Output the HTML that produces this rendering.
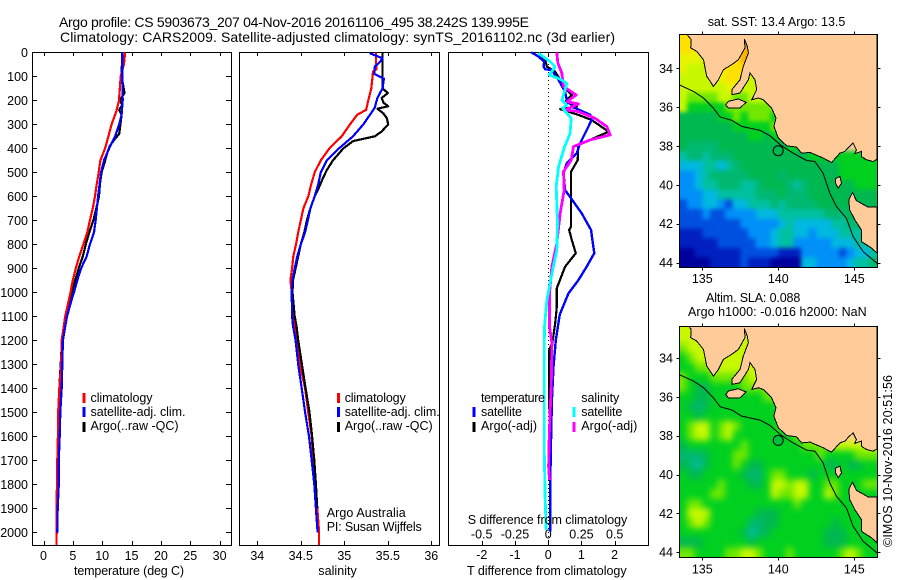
<!DOCTYPE html>
<html lang="en">
<head>
<meta charset="utf-8">
<title>Argo profile chart</title>
<style>
html,body{margin:0;padding:0;background:#fff;}
svg{display:block;font-family:"Liberation Sans",sans-serif;fill:#000;}
text{font-size:12.5px;}
.title{font-size:14px;}
</style>
</head>
<body>
<svg id="chart" xmlns="http://www.w3.org/2000/svg" width="900" height="580" viewBox="0 0 900 580">
<rect x="0" y="0" width="900" height="580" fill="#fff"/>
<text class="title" x="59" y="27" textLength="470">Argo profile: CS 5903673_207 04-Nov-2016 20161106_495 38.242S 139.995E</text>
<text class="title" x="60" y="42" textLength="555">Climatology: CARS2009. Satellite-adjusted climatology: synTS_20161102.nc (3d earlier)</text>

<g id="p1"></g>
<g id="p2"></g>
<g id="p3"></g>
<g id="m1"></g>
<g id="m2"></g>

<g>
<rect x="82.5" y="393" width="3" height="10" fill="#f00"/>
<rect x="82.5" y="407" width="3" height="10" fill="#00f"/>
<rect x="82.5" y="422" width="3" height="10" fill="#000"/>
<text x="90.5" y="402" textLength="62">climatology</text>
<text x="90.5" y="416" textLength="95">satellite-adj. clim.</text>
<text x="90.5" y="430" textLength="88">Argo(..raw -QC)</text>
</g>
<g>
<rect x="337" y="393" width="3" height="10" fill="#f00"/>
<rect x="337" y="407" width="3" height="10" fill="#00f"/>
<rect x="337" y="422" width="3" height="10" fill="#000"/>
<text x="344.7" y="402" textLength="61">climatology</text>
<text x="344.7" y="416" textLength="95">satellite-adj. clim.</text>
<text x="344.7" y="430" textLength="88">Argo(..raw -QC)</text>
</g>
<text x="326.7" y="517" textLength="79">Argo Australia</text>
<text x="326.7" y="531" textLength="95">PI: Susan Wijffels</text>
<g>
<text x="481" y="402" textLength="64">temperature</text>
<text x="481" y="416" textLength="41">satellite</text>
<text x="481" y="430" textLength="56">Argo(-adj)</text>
<rect x="472.5" y="407" width="3" height="10" fill="#00f"/>
<rect x="472.5" y="422" width="3" height="10" fill="#000"/>
<text x="581.3" y="402" textLength="38">salinity</text>
<text x="581.3" y="416" textLength="41">satellite</text>
<text x="581.3" y="430" textLength="56">Argo(-adj)</text>
<rect x="572.5" y="407" width="3" height="10" fill="#0ff"/>
<rect x="572.5" y="422" width="3" height="10" fill="#f0f"/>
</g>
<text x="74" y="575" textLength="110">temperature (deg C)</text>
<text x="318.3" y="575" textLength="38.5">salinity</text>
<text x="467.7" y="524" textLength="159.6">S difference from climatology</text>
<text x="467" y="575" textLength="159.6">T difference from climatology</text>
<text x="707.7" y="26" font-size="12.5" textLength="137.6">sat. SST: 13.4 Argo: 13.5</text>
<text x="706" y="302" textLength="94.3">Altim. SLA: 0.088</text>
<text x="688" y="316" textLength="178.7">Argo h1000: -0.016 h2000: NaN</text>
<text transform="translate(892 547) rotate(-90)" x="0" y="0" textLength="172">©IMOS 10-Nov-2016 20:51:56</text>
</svg>
<script>
const depthTicks = [0,100,200,300,400,500,600,700,800,900,1000,1100,1200,1300,1400,1500,1600,1700,1800,1900,2000];
const tempTicks = [0,5,10,15,20,25,30];
const salTicks = [34,34.5,35,35.5,36];
const tDiffTicks = [-2,-1,0,1,2];
const sDiffTicks = [-0.5,-0.25,0,0.25,0.5];
const lonTicks = [135,140,145];
const latTicks = [34,36,38,40,42,44];

const tempClimDepth = [0,50,100,200,250,300,350,400,450,500,550,600,650,700,750,800,850,900,950,1000,1030,1100,1200,1300,1400,1500,1600,1700,1800,1900,2000,2053];
const tempClim = [13.9,13.7,13.15,12.86,12.35,11.6,11.05,10.5,9.7,9.4,9.06,8.77,8.4,7.9,7.46,6.8,6.1,5.5,5,4.6,4.35,3.7,3.1,3,2.7,2.5,2.45,2.35,2.3,2.2,2.25,2.2];
const tempSatDepth = [0,100,200,260,300,350,400,450,500,600,700,750,800,850,900,950,1000,1030,1100,1200,1300,1400,1500,1600,1700,1800,1900,2000];
const tempSat = [13.4,13.4,13.5,13.3,12.9,12.2,11.2,10.3,9.8,9.3,8.9,8.6,7.9,7.36,6.4,5.76,5.2,4.8,4,3.3,3.2,3.1,2.87,2.76,2.6,2.6,2.42,2.35];
const tempArgoDepth = [0,100,170,200,220,240,260,300,340,360,390,420,460,500,550,600,650,700,750,800,850,900,950,1000,1030,1100,1200,1300,1400,1500,1600,1700,1800,1900,2000];
const tempArgo = [13.4,13.3,13.8,13,13.4,12.9,13.3,13.1,12.9,12.2,11.3,10.85,10.4,9.9,9.6,9.45,9,8.5,7.8,7.2,6.7,6,5.4,4.9,4.5,3.85,3.15,2.93,2.7,2.6,2.6,2.4,2.35,2.35,2.35];

const salClimDepth = [0,50,70,80,100,150,200,240,260,300,350,400,450,500,550,600,650,700,750,800,850,900,950,1000,1100,1140,1200,1300,1400,1500,1600,1700,1800,1900,2000,2053];
const salClim = [35.364,35.364,35.37,35.33,35.325,35.31,35.276,35.25,35.15,35.065,34.97,34.83,34.73,34.66,34.62,34.586,34.53,34.5,34.47,34.445,34.414,34.4,34.38,34.395,34.41,34.425,34.46,34.49,34.55,34.586,34.625,34.644,34.67,34.69,34.71,34.71];
const salSatDepth = [0,5,15,25,40,60,90,110,150,190,230,260,300,350,400,450,500,550,600,650,700,750,800,850,900,950,1000,1100,1140,1200,1300,1400,1500,1600,1700,1800,1900,2000];
const salSat = [35.3,35.3,35.37,35.44,35.41,35.35,35.345,35.455,35.44,35.38,35.35,35.295,35.22,35.1,34.94,34.8,34.73,34.7,34.66,34.61,34.58,34.55,34.5,34.46,34.43,34.405,34.395,34.4,34.41,34.44,34.47,34.51,34.55,34.594,34.625,34.655,34.674,34.693];
const salArgoDepth = [0,100,150,170,190,210,225,235,255,275,300,330,350,370,400,450,490,520,570,600,650,700,750,800,850,900,950,1000,1100,1140,1200,1300,1400,1500,1600,1700,1800,1900];
const salArgo = [35.44,35.44,35.44,35.5,35.43,35.45,35.505,35.38,35.45,35.49,35.505,35.43,35.35,35.1,34.99,34.87,34.8,34.76,34.7,34.66,34.61,34.57,34.54,34.5,34.47,34.44,34.41,34.405,34.43,34.45,34.47,34.513,34.555,34.6,34.63,34.655,34.674,34.69];

const dTSatDepth = [0,18,39,60,71,74,115,164,199,229,261,282,324,379,421,462,504,574,622,671,740,837,893,949,1004,1088,1100,1199,1310,1449,1643,1810,1997];
const dTSat = [-0.51,-0.29,-0.12,-0.14,-0.09,0.11,0.31,0.51,0.56,0.76,1.27,1.31,1.16,0.96,0.86,0.56,0.46,0.51,0.76,1.01,1.29,1.39,1.16,0.91,0.61,0.36,0.34,0.23,0.16,0.11,0.08,0.06,0.06];
const dTArgoDepth = [0,18,32,60,81,115,157,178,206,226,237,261,282,331,386,449,497,601,726,740,782,837,893,983,1060,1129,1206,1240,1449,1657,1990];
const dTArgo = [-0.51,-0.29,-0.09,-0.04,0.21,0.36,0.56,0.71,0.51,0.86,0.36,0.91,1.31,1.82,0.91,0.89,0.69,0.69,0.69,0.63,0.71,0.83,0.51,0.26,0.26,0.21,0.13,0.03,0.03,0.06,0.06];
const dSSatDepth = [4,39,60,94,112,129,178,199,219,233,275,338,393,476,560,712,824,935,1032,1143,1240,1449,1643,1851,1990];
const dSSat = [-0.073,0.015,0.053,0.008,0.09,0.14,0.115,0.103,0.14,0.108,0.173,0.165,0.123,0.078,0.06,0.07,0.065,0.023,-0.01,-0.028,-0.03,-0.03,-0.03,-0.023,-0.015];
const dSArgoDepth = [0,46,87,115,143,178,206,215,240,247,275,310,344,365,393,449,497,574,671,796,893,1004,1143,1212,1379,1587,1726,1782];
const dSArgo = [0.065,0.073,0.103,0.108,0.115,0.21,0.14,0.228,0.128,0.228,0.353,0.441,0.466,0.316,0.19,0.173,0.115,0.12,0.09,0.065,0.028,0.01,0.01,0.028,0.023,0.008,0.003,0.01];

const colorLevels = ['#00009c','#0020c0','#0050e0','#0090f8','#00b8e0','#00c0a0','#00b870','#00b850','#00d020','#70e800','#c8f800','#e8f400','#ffe000','#ffb000'];

const sstGrid = [
[12,12,11],
[12,12,11,10,10,10,10,12,13,13],
[11,11,11,10,10,10,11,12,13,13],
[11,10,10,10,10,11,12,12,12,10,10],
[10,10,10,10,10,11,12,12,11,10,10],
[10,10,10,10,10,10,11,11,10,10,10,10],
[10,9,9,9,9,10,10,9,9,10,10,10,10],
[10,8,8,8,8,8,9,9,9,9,9,9,9,9],
[7,7,7,7,7,8,8,9,8,9,9,9,8,8],
[7,7,7,7,7,7,7,8,8,8,8,8,9,9,8],
[7,7,7,7,7,7,7,7,7,8,8,7,8,8,9,8],
[7,6,6,6,6,7,7,7,7,7,7,7,7,7,8,8,8,8],
[5,6,6,5,6,6,6,7,7,7,7,7,7,7,7,7,7,8,8,8,8,8,8,8,8,8],
[4,4,4,5,5,4,5,6,7,7,7,7,7,7,7,7,7,7,7,7,7,8,8,8,8,8],
[3,3,4,5,6,6,6,6,6,7,7,7,7,6,7,7,7,7,7,7,7,8,8,8,8,8],
[3,3,4,5,5,6,6,6,5,5,6,7,7,7,6,5,6,7,7,7,7,7,7,8,8,8],
[3,3,3,4,4,5,5,5,5,5,6,6,6,7,6,6,6,7,7,7,7,7,7,7,7,7],
[2,3,3,4,4,3,2,4,4,5,5,5,6,5,6,6,6,6,7,7,7,7,7,7,7,7],
[2,2,2,3,2,2,3,3,3,3,4,4,4,5,5,5,5,5,5,6,6,6,7,7,7,7],
[2,2,2,2,2,2,2,2,3,3,3,3,3,4,5,4,4,4,4,4,5,5,6,6,6,6],
[1,1,1,2,2,2,2,2,2,3,3,3,4,5,5,4,4,3,4,4,4,5,5,5,6,6],
[1,1,1,1,1,2,2,2,2,2,3,3,4,5,5,3,3,3,3,3,4,4,4,5,5,5],
[0,0,1,1,1,1,1,1,2,2,2,2,2,1,1,1,3,3,3,3,3,2,3,4,4,5],
[0,0,0,0,1,1,1,1,2,1,1,1,0,0,0,0,4,4,3,3,3,3,4,5,5,6]
];

const slaGrid = [
[10,10,10],
[10,10,10,10,10,10,10,10,10,10],
[9,10,10,10,10,10,10,10,10,10],
[8,9,10,10,10,10,10,10,10,10,10],
[8,8,9,9,10,10,10,10,10,10,10],
[9,8,8,8,9,9,9,9,9,10,10,10],
[9,8,7,7,8,8,8,8,9,9,9,9,9,10,10],
[8,8,7,7,8,8,8,8,8,8,8,9,9,10],
[8,7,6,7,8,8,8,8,8,8,8,8,8,9,10],
[8,8,7,8,8,8,8,8,8,8,8,8,8,8,10],
[8,9,10,10,8,9,10,9,8,8,8,8,8,9,9,10],
[8,9,10,10,8,9,10,8,8,8,8,8,8,8,8,9,9,10,10],
[7,8,8,8,8,8,8,8,9,8,8,8,8,8,8,8,9,9,9,9,10,10,10,10,10,10],
[6,6,6,7,8,8,8,9,9,8,8,8,8,8,8,8,8,8,9,8,8,8,8,9,9,9],
[7,6,5,7,8,8,8,9,8,7,7,8,8,8,8,8,8,8,8,7,7,8,7,7,8,8],
[8,7,7,8,8,8,8,8,7,6,6,8,9,9,8,8,8,7,8,8,8,8,8,8,8,8],
[8,8,8,8,8,9,8,8,8,7,7,8,10,10,9,10,10,8,8,9,9,8,8,8,9,9],
[8,8,8,8,9,9,8,8,8,8,8,8,10,9,9,10,10,8,8,10,9,8,8,8,8,8],
[8,9,9,8,8,8,8,8,8,8,8,8,8,8,8,9,8,8,8,8,8,8,8,8,8,8],
[8,10,10,10,8,8,8,8,8,8,7,7,7,8,8,8,8,8,8,8,8,8,8,8,8,8],
[8,9,10,9,8,8,8,8,8,6,6,7,7,8,8,8,8,8,8,8,7,8,8,8,8,8],
[8,8,8,8,8,8,8,8,7,5,6,7,8,8,8,8,8,8,8,7,7,7,8,8,8,8],
[7,7,7,8,8,8,8,8,8,7,8,8,8,8,8,8,8,8,8,7,7,7,8,8,8,8],
[9,9,8,8,8,8,9,9,10,10,9,8,8,8,9,8,8,8,8,8,8,9,10,9,8,8]
];

const mainlandLon = [133.98,134.27,134.24,134.64,135.08,135.29,135.51,135.73,136.06,136.39,136.94,137.37,137.81,137.77,137.96,138.03,137.7,137.48,136.94,136.94,137.48,138.03,138.14,138.47,138.58,138.25,138.69,139.01,139.56,139.85,139.71,140,140.55,141.2,141.53,142.08,142.95,143.5,144.05,144.38,144.64,144.92,145.14,145.03,145.47,145.47,145.8,146.24,146.5,146.5];
const mainlandLat = [32.25,32.52,32.95,33.13,33.56,34.41,34.67,34.93,34.59,34.07,33.81,33.56,32.95,32.49,32.87,33.21,33.9,34.59,35.1,35.36,35.27,34.59,34.24,34.59,35.1,35.62,35.53,35.62,36.05,36.56,36.99,37.59,37.99,38.06,38.37,38.33,38.62,38.85,38.37,38.28,38.06,37.85,38.2,38.4,38.28,38.54,38.71,38.8,38.68,32.25];
const tasmaniaLon = [146.5,145.91,145.14,144.88,144.64,144.7,145.03,145.47,145.47,146.13,146.5];
const tasmaniaLat = [41.15,41.15,40.81,40.39,40.77,41.29,41.8,42.32,42.92,43.26,43.52];
const kangarooLon = [136.54,136.72,137.37,137.88,137.48,136.72];
const kangarooLat = [35.88,35.7,35.58,35.75,36.05,36.05];
const kingLon = [143.78,144.05,144.16,143.94,143.76];
const kingLat = [39.66,39.57,39.91,40.17,39.91];
const isobathLon = [133.5,134.42,135.08,135.73,136.17,136.94,137.59,138.8,139.45,140.22,140.98,141.86,142.41,142.95,143.39,143.83,144.48,144.92,145.58,146.5];
const isobathLat = [34.86,35.19,35.53,36.05,36.51,36.68,36.99,37.2,37.47,37.99,38.37,38.75,38.8,39.4,40.43,41.12,41.72,42.66,43.44,44.04];
const profileLon = [139.995];
const profileLat = [38.242];

const NS = 'http://www.w3.org/2000/svg';
const yDepth = d => 52.3 + 0.24 * d;
const xTemp = v => 43.5 + 5.87 * v;
const xSal = v => 257.3 + 87 * (v - 34);
const xDT = v => 548.2 + 33.2 * v;
const xDS = v => 548.2 + 133 * v;
const TOP = 52, BOT = 545;

function add(parent, tag, attrs) {
  const el = document.createElementNS(NS, tag);
  for (const k in attrs) el.setAttribute(k, attrs[k]);
  parent.appendChild(el);
  return el;
}
function frame(g, x0, y0, x1, y1) {
  const el = add(g, 'rect', {x: x0, y: y0, width: x1 - x0, height: y1 - y0, fill: 'none', stroke: '#000', 'stroke-width': 1, 'shape-rendering': 'crispEdges'});
  
  
}
function tick(g, x1, y1, x2, y2) {
  const el = add(g, 'line', {x1, y1, x2, y2, stroke: '#000', 'stroke-width': 1, 'shape-rendering': 'crispEdges'});
  
  
}
function label(g, x, y, anchor, str) {
  const el = add(g, 'text', {x, y, 'text-anchor': anchor});
  el.textContent = str;
  
  
}
function profile(g, name, color, depths, values, xFn, width) {
  const pts = depths.map((d, i) => xFn(values[i]).toFixed(1) + ',' + yDepth(d).toFixed(1)).join(' ');
  const el = add(g, 'polyline', {points: pts, fill: 'none', stroke: color, 'stroke-width': width, 'shape-rendering': 'crispEdges', 'stroke-linejoin': 'round'});
  
  
}
function xTicks(g, ticks, xFn, top, bottom, labelY) {
  ticks.forEach(t => {
    const x = Math.round(xFn(t)) + 0.5;
    if (top) tick(g, x, TOP, x, TOP + 4);
    if (bottom) tick(g, x, BOT, x, BOT - 4);
    if (labelY) label(g, xFn(t), labelY, 'middle', String(t));
  });
}

const p1 = document.getElementById('p1');
frame(p1, 32.5, TOP + .5, 231.5, BOT + .5);
depthTicks.forEach(d => {
  const y = Math.round(yDepth(d)) + 0.5;
  tick(p1, 32.5, y, 37, y);
  tick(p1, 231.5, y, 226, y);
  label(p1, 28, yDepth(d) + 4.5, 'end', String(d));
});
xTicks(p1, tempTicks, xTemp, true, true, 560);
profile(p1, 'temperature-argo-line', '#000', tempArgoDepth, tempArgo, xTemp, 2.2);
profile(p1, 'temperature-climatology-line', '#f00', tempClimDepth, tempClim, xTemp, 2.2);
profile(p1, 'temperature-satellite-line', '#00f', tempSatDepth, tempSat, xTemp, 2.2);

const p2 = document.getElementById('p2');
frame(p2, 239.5, TOP + .5, 439.5, BOT + .5);
xTicks(p2, salTicks, xSal, true, true, 560);
profile(p2, 'salinity-climatology-line', '#f00', salClimDepth, salClim, xSal, 2.2);
profile(p2, 'salinity-argo-line', '#000', salArgoDepth, salArgo, xSal, 2.2);
profile(p2, 'salinity-satellite-line', '#00f', salSatDepth, salSat, xSal, 2.2);

const p3 = document.getElementById('p3');
frame(p3, 448.5, TOP + .5, 648.5, BOT + .5);
const zero = add(p3, 'line', {x1: 548.5, y1: TOP, x2: 548.5, y2: BOT, stroke: '#000', 'stroke-width': 1, 'stroke-dasharray': '1 3', 'shape-rendering': 'crispEdges'});


xTicks(p3, tDiffTicks, xDT, true, true, 559);
sDiffTicks.forEach(t => label(p3, xDS(t), 538.7, 'middle', String(t)));
profile(p3, 't-diff-argo-line', '#000', dTArgoDepth, dTArgo, xDT, 2.2);
profile(p3, 't-diff-satellite-line', '#00f', dTSatDepth, dTSat, xDT, 2.4);
profile(p3, 's-diff-argo-line', '#f0f', dSArgoDepth, dSArgo, xDS, 2.8);
profile(p3, 's-diff-satellite-line', '#0ff', dSSatDepth, dSSat, xDS, 2.8);

function drawMap(id, grid, top, bottom, lat34y, lonLabelY, markerFill, blur) {
  const g = document.getElementById(id);
  const L = 679.5, R = 877.5;
  const xLon = lon => 702.3 + 15.2 * (lon - 135);
  const yLat = lat => lat34y + 19.42 * (lat - 34);
  const clipId = id + '-clip';
  const blurId = id + '-blur';
  const defs = add(g, 'clipPath', {id: clipId});
  add(defs, 'rect', {x: L, y: top, width: R - L, height: bottom - top});
  const filter = add(g, 'filter', {id: blurId, filterUnits: 'userSpaceOnUse', x: L - 30, y: top - 30, width: R - L + 60, height: bottom - top + 60, 'color-interpolation-filters': 'sRGB'});
  add(filter, 'feGaussianBlur', {stdDeviation: blur});
  const body = add(g, 'g', {'clip-path': 'url(#' + clipId + ')'});
  const bg = add(body, 'rect', {x: L, y: top, width: R - L, height: bottom - top, fill: '#ffcc99'});
  
  
  const cells = add(body, 'g', {filter: 'url(#' + blurId + ')'});
  
  
  const lat0 = 32.25, step = 0.5, lon0 = 133.5, pad = 16;
  grid.forEach((row, r) => row.forEach((lv, c) => {
    const x0 = xLon(lon0 + c * step) - (c === 0 ? pad : 0);
    const x1 = xLon(lon0 + (c + 1) * step) + (c === row.length - 1 ? pad : 0);
    const y0 = yLat(lat0 + r * step) - (r === 0 ? pad : 0);
    const y1 = yLat(lat0 + (r + 1) * step) + (r === grid.length - 1 ? pad : 0);
    const cell = add(cells, 'rect', {x: x0.toFixed(1), y: y0.toFixed(1), width: (x1 - x0 + .5).toFixed(1), height: (y1 - y0 + .5).toFixed(1), fill: colorLevels[lv], 'shape-rendering': 'crispEdges'});
    
    
  }));
  [[mainlandLon, mainlandLat, 'mainland'], [tasmaniaLon, tasmaniaLat, 'tasmania'], [kangarooLon, kangarooLat, 'kangaroo-island'], [kingLon, kingLat, 'king-island']].forEach(s => {
    const pts = s[0].map((lon, i) => xLon(lon).toFixed(1) + ',' + yLat(s[1][i]).toFixed(1)).join(' ');
    const land = add(body, 'polygon', {points: pts, fill: '#ffcc99', stroke: '#000', 'stroke-width': 1, 'shape-rendering': 'crispEdges'});
    
    
  });
  const iso = add(body, 'polyline', {points: isobathLon.map((lon, i) => xLon(lon).toFixed(1) + ',' + yLat(isobathLat[i]).toFixed(1)).join(' '), fill: 'none', stroke: '#000', 'stroke-width': 1});
  
  
  const mark = add(body, 'circle', {cx: xLon(profileLon[0]).toFixed(1), cy: yLat(profileLat[0]).toFixed(1), r: 5, fill: markerFill, stroke: '#000', 'stroke-width': 1});
  
  
  frame(g, L, top, R, bottom);
  lonTicks.forEach(t => {
    const x = Math.round(xLon(t)) + .5;
    tick(g, x, top, x, top - 3);
    tick(g, x, bottom, x, bottom + 3);
    label(g, xLon(t), lonLabelY, 'middle', String(t));
  });
  latTicks.forEach(t => {
    const y = Math.round(yLat(t)) + .5;
    tick(g, L, y, L - 3, y);
    tick(g, R, y, R + 3, y);
    label(g, 673, yLat(t) + 4.5, 'end', String(t));
  });
}
drawMap('m1', sstGrid, 34.5, 267.5, 68.3, 283, 'none', 2);
drawMap('m2', slaGrid, 326.5, 557.5, 358, 573.5, '#00c040', 3.5);
</script>
</body>
</html>
